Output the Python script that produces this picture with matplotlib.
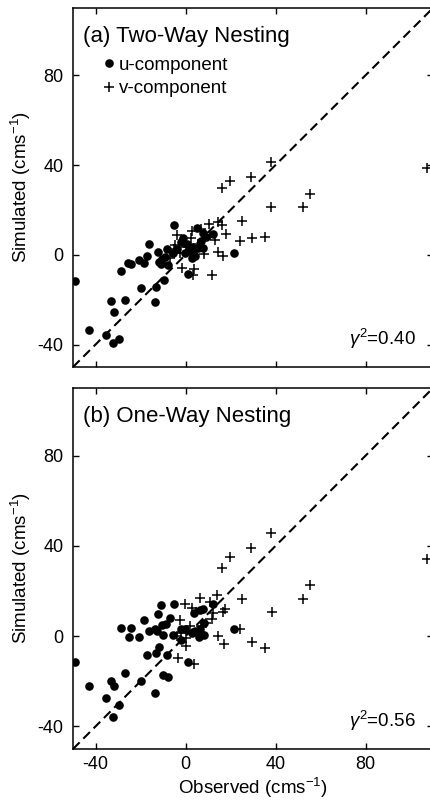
#!/usr/bin/env python3
#
# Observed vs simulated currents, two-way and one-way nesting
#
import numpy as np
import matplotlib
matplotlib.use('Agg')
import matplotlib.pyplot as plt

plt.rcParams['font.family'] = ['Liberation Sans', 'DejaVu Sans']
plt.rcParams['mathtext.fontset'] = 'custom'
plt.rcParams['mathtext.rm'] = 'Liberation Sans'
plt.rcParams['mathtext.it'] = 'Liberation Sans:italic'
plt.rcParams['axes.unicode_minus'] = False

#
# Data (observed, simulated) in cm/s
#
a_u_obs = [-49.3, -43.0, -35.4, -32.4, -29.7, -33.3, -31.9, -26.9, -28.7, -25.4,
           -24.4, -20.6, -18.4, -17.3, -16.2, -19.9, -13.3, -13.4, -9.6, -12.3,
           -12.0, -11.0, -8.3, -8.9, -7.7, -4.9, -3.6, -1.0, -1.8, 0.9,
           5.2, 7.6, 12.3, 6.8, 3.4, 5.6, 7.9, 21.4, -0.3, 1.5,
           4.4, -5.5, 2.7, 9.3, -10.4, 0.5, 3.0]
a_u_sim = [-11.5, -33.3, -35.6, -39.3, -37.4, -20.6, -25.4, -20.2, -7.2, -3.6,
           -3.9, -2.2, -3.6, -0.7, 4.7, -14.8, -14.4, -21.0, -11.1, 1.2,
           -3.3, -4.3, 2.6, -1.0, -4.7, 13.2, 2.5, 7.7, 5.5, -8.4,
           11.8, 9.9, 9.3, 6.1, 0.7, 3.0, 3.0, 0.7, 0.9, 1.9,
           -0.6, 0.6, 3.7, 7.9, -1.8, 5.0, -1.5]
a_v_obs = [38.2, 29.3, 19.8, 16.0, 55.3, 52.1, 38.2, 25.0, 35.3, 29.6,
           24.1, 17.8, 16.3, 14.3, 10.5, 14.4, 16.7, 11.7, 3.5, 3.9,
           -1.7, 13.0, 2.7, -3.7, 2.4, -5.2, -2.5, 1.2, 107.5, 10.8,
           0.4, 1.2, -4.8, 5.5, 8.0, -7.0, 7.0]
a_v_sim = [41.2, 34.6, 33.0, 29.9, 27.2, 21.1, 21.4, 15.0, 7.8, 7.7,
           6.3, 9.2, 13.1, 14.5, 13.9, 1.2, -0.5, -8.8, -8.8, -6.2,
           -5.8, 6.7, 10.8, 9.0, 7.6, 2.4, 0.7, 3.7, 38.6, 8.9,
           3.7, 1.5, 4.5, 5.0, 0.5, -1.5, 11.5]

b_u_obs = [-49.3, -43.0, -35.4, -32.4, -29.7, -33.3, -31.9, -26.9, -28.8, -24.4,
           -25.3, -20.6, -18.5, -17.3, -19.9, -13.4, -16.2, -12.1, -10.7, -12.6,
           -11.6, -12.9, -9.8, -8.0, -8.2, -4.9, -6.8, -8.8, -2.1, 1.2,
           3.7, 6.4, 12.3, 8.2, 8.1, 6.1, 21.4, -0.3, 2.7, 6.4,
           -5.5, -9.9, -13.6, -1.8, -10.5, 7.8, 4.0]
b_u_sim = [-11.4, -22.1, -27.5, -36.0, -30.4, -20.0, -22.1, -16.3, 3.7, 3.7,
           -0.4, -0.4, 7.1, -8.4, -20.0, -25.3, 2.1, 9.7, 13.9, 2.2,
           -4.7, -7.5, -17.4, -17.9, -8.4, 14.3, 8.1, 5.2, 3.0, -11.4,
           10.4, 11.6, 14.4, 5.9, 0.7, -0.3, 3.3, 3.0, 1.5, 3.0,
           0.7, 0.7, 3.0, -1.5, 5.0, 11.9, 2.5]
b_v_obs = [38.2, 29.3, 19.8, 16.0, 55.3, 52.1, 38.4, 25.0, 35.3, 29.6,
           24.1, 17.6, 14.1, 16.5, 14.5, 16.9, 3.8, -3.3, 0.0, 6.6,
           -0.3, 2.7, -2.6, 10.8, 12.4, 107.5, 9.3, 11.6, -4.0, 1.9,
           7.1, -1.8, 0.4, 4.5]
b_v_sim = [45.7, 38.9, 35.2, 30.4, 22.6, 16.3, 10.7, 16.3, -5.2, -2.5,
           3.3, 12.2, 18.2, 10.6, 0.0, -3.3, -12.2, -9.8, -4.2, 17.1,
           14.1, 12.6, 7.2, 15.2, 10.2, 34.2, 5.9, 7.4, 0.0, 4.5,
           4.5, 1.5, -0.7, 10.5]

titles = ['(a) Two-Way Nesting', '(b) One-Way Nesting']
r2 = [0.40, 0.56]
ticks = [-40, 0, 40, 80]
lims = (-50, 110)

#
# Create figure
#
fig = plt.figure(figsize=(4.3, 8.01), dpi=100)
ax_a = fig.add_axes([73 / 430, 1 - 367 / 801, 360 / 430, 359 / 801])
ax_b = fig.add_axes([73 / 430, 1 - 749 / 801, 360 / 430, 361 / 801])


def panel(ax, uo, us, vo, vs, title, r):
    """ Draw one scatter panel """
    ax.plot(lims, lims, color='black', lw=1.5, dashes=(4.5, 2.5), zorder=1)
    ax.plot(uo, us, 'o', color='black', ms=6.2, mew=0, label='u-component',
            zorder=2)
    ax.plot(vo, vs, '+', color='black', ms=6.5, mew=1.1, label='v-component',
            zorder=3)
    ax.set_xlim(*lims)
    ax.set_ylim(*lims)
    ax.set_xticks(ticks)
    ax.set_yticks(ticks)
    ax.tick_params(direction='in', top=True, right=True, length=4, width=1,
                   labelsize=13, pad=7)
    ax.tick_params(axis='x', pad=5)
    for s in ax.spines.values():
        s.set_linewidth(1.1)
    ax.set_ylabel('Simulated (cms$^{-1}$)', fontsize=13.5, labelpad=3)
    ax.text(0.027, 0.906, title, fontsize=16, va='baseline',
            transform=ax.transAxes)
    ax.text(0.952, 0.062, r'$\gamma^2$=' + f'{r:.2f}', fontsize=13.5,
            ha='right', va='baseline', transform=ax.transAxes)


panel(ax_a, a_u_obs, a_u_sim, a_v_obs, a_v_sim, titles[0], r2[0])
ax_a.tick_params(labelbottom=False)
ax_a.legend(loc='upper left', bbox_to_anchor=(0.084, 0.864), frameon=False,
            fontsize=13.5, handlelength=0.6, handletextpad=0.25,
            borderpad=0, borderaxespad=0, labelspacing=0.32, numpoints=1)

panel(ax_b, b_u_obs, b_u_sim, b_v_obs, b_v_sim, titles[1], r2[1])
ax_b.set_xlabel('Observed (cms$^{-1}$)', fontsize=13.5, labelpad=2)

fig.savefig('out.png', dpi=100)
